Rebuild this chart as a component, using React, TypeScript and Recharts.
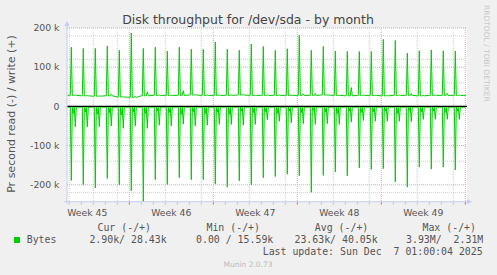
import React from 'react';
import { LineChart, Line, XAxis, YAxis, CartesianGrid, ReferenceLine } from 'recharts';

// midnight of each day on the graph, in hours from the first one
const midnights = [
  0, 24, 48, 72, 96, 120, 144, 168, 192, 216, 240, 264, 288, 312, 336, 360, 384,
  408, 432, 456, 480, 504, 528, 552, 576, 600, 624, 648, 672, 696, 720, 744, 768,
];
// hours after midnight where a sample is kept
const sampleHours = [0, 2, 4, 6, 8, 10, 12, 14];

// write (+), k bytes/s
const writePeak = [
  151, 148, 148, 154, 143, 187, 148, 151, 141, 151, 146, 146, 164, 146, 143, 159, 153,
  143, 147, 182, 143, 153, 141, 140, 140, 140, 171, 168, 136, 142, 144, 142, 141,
];
const writeBase = [
  28, 27, 26, 27, 24, 23, 27, 28, 28, 28, 29, 28, 28, 28, 29, 28, 28,
  28, 28, 28, 28, 29, 28, 27, 28, 28, 27, 28, 28, 27, 28, 28, 28,
];
const writeBump = [
  30, 28, 27, 31, 25, 26, 37, 29, 28, 40, 30, 29, 30, 29, 31, 28, 30,
  29, 28, 32, 33, 29, 28, 48, 29, 28, 28, 29, 33, 28, 29, 33, 29,
];

// read (-), k bytes/s
const readBase = -2;
const readPeak = [
  189, 200, 208, 184, 200, 215, 246, 187, 199, 182, 187, 187, 198, 206, 190, 200, 182,
  179, 173, 177, 219, 176, 167, 177, 157, 161, 159, 193, 206, 155, 160, 155, 162,
];
const readSecond = [
  52, 52, 52, 50, 56, 50, 56, 48, 50, 45, 50, 48, 46, 46, 48, 46, 34,
  38, 42, 44, 46, 44, 46, 40, 36, 38, 38, 38, 39, 33, 33, 33, 33,
];
const readMid = [
  18, 14, 20, 16, 22, 15, 18, 12, 16, 20, 14, 18, 15, 20, 12, 16, 14,
  18, 12, 16, 10, 14, 18, 12, 16, 14, 12, 18, 10, 14, 12, 16, 12,
];

const weekStarts = [120, 288, 456, 624, 792];
const weekMids = [36, 204, 372, 540, 708];
const weekLabels = ['Week 45', 'Week 46', 'Week 47', 'Week 48', 'Week 49'];
const dayLines = midnights.filter((h) => !weekStarts.includes(h));

const yMajor = [-200000, -100000, 0, 100000, 200000];
const yMinor = [
  -240000, -220000, -180000, -160000, -140000, -120000, -80000, -60000, -40000, -20000,
  20000, 40000, 60000, 80000, 120000, 140000, 160000, 180000,
];
const yLabels = ['-200 k', '-100 k', '0', '100 k', '200 k'];
const yBottom = -244000;
const tickDepth = -251000;

const legendHeads = ['Cur (-/+)', 'Min (-/+)', 'Avg (-/+)', 'Max (-/+)'];
const legendValues = ['2.90k/ 28.43k', '0.00 / 15.59k', '23.63k/ 40.05k', '3.93M/  2.31M'];
const lastUpdate = 'Last update: Sun Dec  7 01:00:04 2025';

const rows: { h: number; write: number; read: number }[] = [
  { h: -4, write: writeBase[0] * 1000, read: readBase * 1000 },
];
midnights.forEach((m, k) => {
  const w = [writeBase[k], writeBase[k], writePeak[k], writeBase[k], writeBase[k], writeBase[k], writeBump[k], writeBase[k]];
  const r = [readBase, readBase, -readPeak[k], readBase, -readMid[k], readBase, -readSecond[k], readBase];
  sampleHours.forEach((o, i) => rows.push({ h: m + o, write: w[i] * 1000, read: r[i] * 1000 }));
});
rows.push({ h: 793, write: writeBase[32] * 1000, read: readBase * 1000 });

const FONT = '"DejaVu Sans", sans-serif';
const MONO = '"DejaVu Sans Mono", monospace';
const GREEN = '#00cc00';
const AXIS = '#c6cbf3';

const YTick = (props: any) => {
  const i = yMajor.indexOf(props.payload.value);
  return (
    <text x={59.5} y={props.y} dy={3.3} textAnchor="end" fontFamily={FONT} fontSize={9.3} fill="#555">
      {yLabels[i]}
    </text>
  );
};

const XTick = (props: any) => {
  const i = weekMids.indexOf(props.payload.value);
  return (
    <text x={props.x} y={props.y + 13.7} textAnchor="middle" fontFamily={FONT} fontSize={9.3} fill="#555">
      {weekLabels[i]}
    </text>
  );
};

export default function App() {
  return (
    <div style={{ position: 'absolute', left: 0, top: 0, width: 497, height: 275, background: '#f0f0f0' }}>
      <LineChart width={497} height={275} data={rows} margin={{ top: 28, right: 30, bottom: 53, left: 0 }}>
        <CartesianGrid
          fill="#ffffff"
          stroke="#cfcfcf"
          strokeDasharray="1 1"
          horizontalValues={yMinor}
          verticalValues={dayLines}
        />
        <CartesianGrid
          stroke="#eba4a4"
          strokeDasharray="1 1"
          horizontalValues={yMajor}
          verticalValues={weekStarts}
        />
        <XAxis
          dataKey="h"
          type="number"
          domain={[-4.6, 795.4]}
          ticks={weekMids}
          tick={<XTick />}
          tickLine={false}
          axisLine={false}
          tickSize={0}
          tickMargin={0}
          height={20}
          allowDataOverflow
        />
        <YAxis
          type="number"
          domain={[yBottom, 200000]}
          ticks={yMajor}
          tick={<YTick />}
          tickLine={false}
          axisLine={false}
          width={67}
          allowDataOverflow
        />
        {dayLines.map((h) => (
          <ReferenceLine
            key={'d' + h}
            segment={[{ x: h, y: yBottom }, { x: h, y: tickDepth }]}
            ifOverflow="visible"
            stroke="#c8c8c8"
          />
        ))}
        {weekStarts.map((h) => (
          <ReferenceLine
            key={'w' + h}
            segment={[{ x: h, y: yBottom }, { x: h, y: tickDepth }]}
            ifOverflow="visible"
            stroke="#e07070"
          />
        ))}
        <Line dataKey="write" type="linear" stroke={GREEN} strokeWidth={1} dot={false} isAnimationActive={false} />
        <Line dataKey="read" type="linear" stroke={GREEN} strokeWidth={1} dot={false} isAnimationActive={false} />
        <ReferenceLine y={0} stroke="#000" strokeWidth={1.3} />
      </LineChart>
      <svg width={497} height={275} style={{ position: 'absolute', left: 0, top: 0, pointerEvents: 'none' }}>
        <line x1={67} y1={204} x2={67} y2={25} stroke={AXIS} strokeWidth={1} />
        <polygon points="64.5,26 69.5,26 67,21" fill={AXIS} />
        <line x1={64} y1={201.7} x2={468} y2={201.7} stroke={AXIS} strokeWidth={1} />
        <polygon points="467,199.2 467,204.2 472,201.7" fill={AXIS} />
        <text x={248} y={24} textAnchor="middle" fontFamily={FONT} fontSize={12.5} fill="#444">
          Disk throughput for /dev/sda - by month
        </text>
        <text
          x={0}
          y={0}
          transform="translate(14.5,114) rotate(-90)"
          textAnchor="middle"
          fontFamily={FONT}
          fontSize={11}
          fill="#555"
        >
          Pr second read (-) / write (+)
        </text>
        <text x={484} y={5} transform="rotate(90,484,5)" fontFamily={FONT} fontSize={7.5} fill="#c8c8c8">
          RRDTOOL / TOBI OETIKER
        </text>
        {legendHeads.map((t, i) => (
          <text key={t} x={[151, 260, 368.3, 476][i]} y={231} textAnchor="end" fontFamily={MONO} fontSize={9.9} fill="#555" style={{ whiteSpace: 'pre' }}>
            {t}
          </text>
        ))}
        <rect x={14} y={237} width={6} height={6} fill={GREEN} />
        <text x={26.7} y={243} fontFamily={MONO} fontSize={9.9} fill="#555">
          Bytes
        </text>
        {legendValues.map((t, i) => (
          <text key={t} x={[166.7, 273.3, 377.7, 483.3][i]} y={243} textAnchor="end" fontFamily={MONO} fontSize={9.9} fill="#555" style={{ whiteSpace: 'pre' }}>
            {t}
          </text>
        ))}
        <text x={482.7} y={255} textAnchor="end" fontFamily={MONO} fontSize={9.9} fill="#555" style={{ whiteSpace: 'pre' }}>
          {lastUpdate}
        </text>
        <text x={248} y={267} textAnchor="middle" fontFamily={FONT} fontSize={7.5} fill="#bbb">
          Munin 2.0.73
        </text>
      </svg>
    </div>
  );
}
